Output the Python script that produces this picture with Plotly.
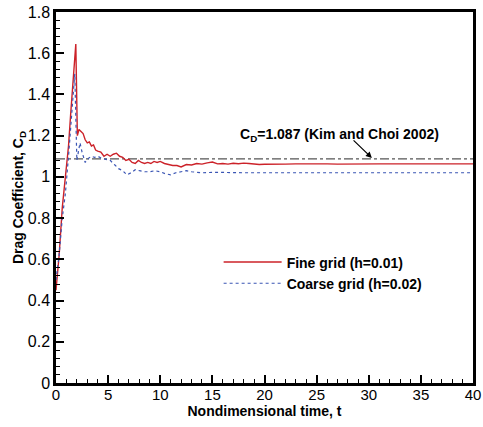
import plotly.graph_objects as go

# Fine grid (h=0.01)
fine_t = [0, 0.3, 0.6, 0.8, 1.0, 1.2, 1.4, 1.6, 1.9, 2.05, 2.2, 2.4, 2.6, 2.8, 3.0, 3.2, 3.4, 3.6, 3.8, 4.0,
          4.3, 4.6, 4.9, 5.2, 5.5, 5.8, 6.1, 6.4, 6.7, 7.0, 7.3, 7.6, 7.9, 8.2, 8.5, 8.8, 9.1, 9.4, 9.7, 10.0,
          10.4, 10.8, 11.2, 11.6, 12.0, 12.5, 13.0, 13.5, 14.0, 14.5, 15.0, 15.5, 16.0, 16.5, 17.0, 17.5, 18.0,
          18.5, 19.0, 19.5, 20, 21, 22, 23, 24, 25, 26, 27, 28, 29, 30, 31, 32, 33, 34, 35, 36, 37, 38, 39, 40]
fine_cd = [0.45, 0.62, 0.85, 0.95, 1.05, 1.15, 1.30, 1.45, 1.645, 1.20, 1.23, 1.22, 1.21, 1.18, 1.165, 1.17, 1.15, 1.155, 1.13, 1.125,
           1.12, 1.10, 1.11, 1.10, 1.11, 1.115, 1.10, 1.095, 1.08, 1.085, 1.07, 1.065, 1.08, 1.07, 1.065, 1.07, 1.065, 1.075, 1.07, 1.075,
           1.065, 1.06, 1.055, 1.055, 1.048, 1.06, 1.058, 1.065, 1.062, 1.068, 1.072, 1.063, 1.065, 1.062, 1.066, 1.064, 1.067,
           1.065, 1.062, 1.060, 1.061, 1.063, 1.062, 1.063, 1.064, 1.063, 1.063, 1.062, 1.063, 1.063, 1.064, 1.063, 1.063, 1.063, 1.063, 1.063, 1.063, 1.063, 1.063, 1.063, 1.063]

# Coarse grid (h=0.02)
coarse_t = [0, 0.3, 0.6, 0.9, 1.2, 1.5, 1.8, 2.0, 2.3, 2.5, 2.8, 3.1, 3.4, 3.7, 4.0, 4.4, 4.8, 5.2, 5.6, 6.0,
            6.4, 6.8, 7.2, 7.6, 8.0, 8.5, 9.0, 9.5, 10.0, 10.5, 11.0, 11.5, 12.0, 12.5, 13, 14, 15, 16, 17, 18,
            19, 20, 22, 24, 26, 28, 30, 32, 34, 36, 38, 40]
coarse_cd = [0.50, 0.62, 0.80, 0.92, 1.10, 1.30, 1.50, 1.08, 1.165, 1.12, 1.07, 1.09, 1.10, 1.095, 1.10, 1.09, 1.085, 1.08, 1.06, 1.04,
             1.03, 1.01, 1.02, 1.035, 1.03, 1.025, 1.025, 1.03, 1.025, 1.015, 1.01, 1.02, 1.025, 1.03, 1.025, 1.02, 1.022, 1.02, 1.021, 1.02,
             1.021, 1.02, 1.02, 1.021, 1.02, 1.02, 1.02, 1.02, 1.02, 1.02, 1.02, 1.02]

REF_CD = 1.087
REF_T = [0, 40]

FONT = "Liberation Sans, Arial, sans-serif"

fig = go.Figure()
fig.add_trace(go.Scatter(x=REF_T, y=[REF_CD, REF_CD], mode="lines",
                         line=dict(color="#555555", width=1.3, dash="dashdot"), showlegend=False))
fig.add_trace(go.Scatter(x=fine_t, y=fine_cd, mode="lines", name="Fine grid (h=0.01)",
                         line=dict(color="#cc2229", width=1.4)))
fig.add_trace(go.Scatter(x=coarse_t, y=coarse_cd, mode="lines", name="Coarse grid (h=0.02)",
                         line=dict(color="#3a55b4", width=1.2, dash="dot")))

axis_common = dict(showline=True, linecolor="black", linewidth=2.5, mirror=True,
                   ticks="inside", tickcolor="black", tickwidth=1.5, ticklen=8,
                   showgrid=False, zeroline=False, automargin=False)

fig.update_xaxes(range=[0, 40], dtick=5, tick0=0,
                 tickfont=dict(family=FONT, size=15, color="black"), ticklabelstandoff=-4,
                 minor=dict(dtick=1, ticks="inside", ticklen=4, tickcolor="black", tickwidth=1.2),
                 title=dict(text="<b>Nondimensional time, t</b>", font=dict(family=FONT, size=14, color="black"), standoff=4),
                 **axis_common)
fig.update_yaxes(range=[0, 1.8], dtick=0.2, tick0=0,
                 tickfont=dict(family=FONT, size=16, color="black"),
                 minor=dict(dtick=0.04, ticks="inside", ticklen=4, tickcolor="black", tickwidth=1.2),
                 title=dict(text="<b>Drag Coefficient, C<sub>D</sub></b>", font=dict(family=FONT, size=14, color="black"), standoff=1),
                 **axis_common)

fig.add_annotation(x=27.2, y=1.205, xref="x", yref="y", showarrow=False,
                   text="<b>C<sub>D</sub>=1.087 (Kim and Choi 2002)</b>",
                   font=dict(family=FONT, size=14, color="black"))
fig.add_annotation(x=30.3, y=1.092, ax=28.4, ay=1.184, xref="x", yref="y", axref="x", ayref="y",
                   text="", showarrow=True, arrowhead=2, arrowsize=1, arrowwidth=1.2, arrowcolor="black")

fig.update_layout(
    width=483, height=427,
    margin=dict(l=56, r=10, t=12, b=44),
    plot_bgcolor="white", paper_bgcolor="white",
    font=dict(family=FONT, color="black"),
    legend=dict(x=0.39, y=0.368, xanchor="left", yanchor="top",
                bgcolor="rgba(0,0,0,0)", font=dict(family=FONT, size=14, color="black", weight="bold"),
                itemwidth=58, tracegroupgap=0),
)

fig.write_html("out.html", config={"displayModeBar": False},
               post_script="document.body.style.margin='0';document.body.style.overflow='hidden';")
